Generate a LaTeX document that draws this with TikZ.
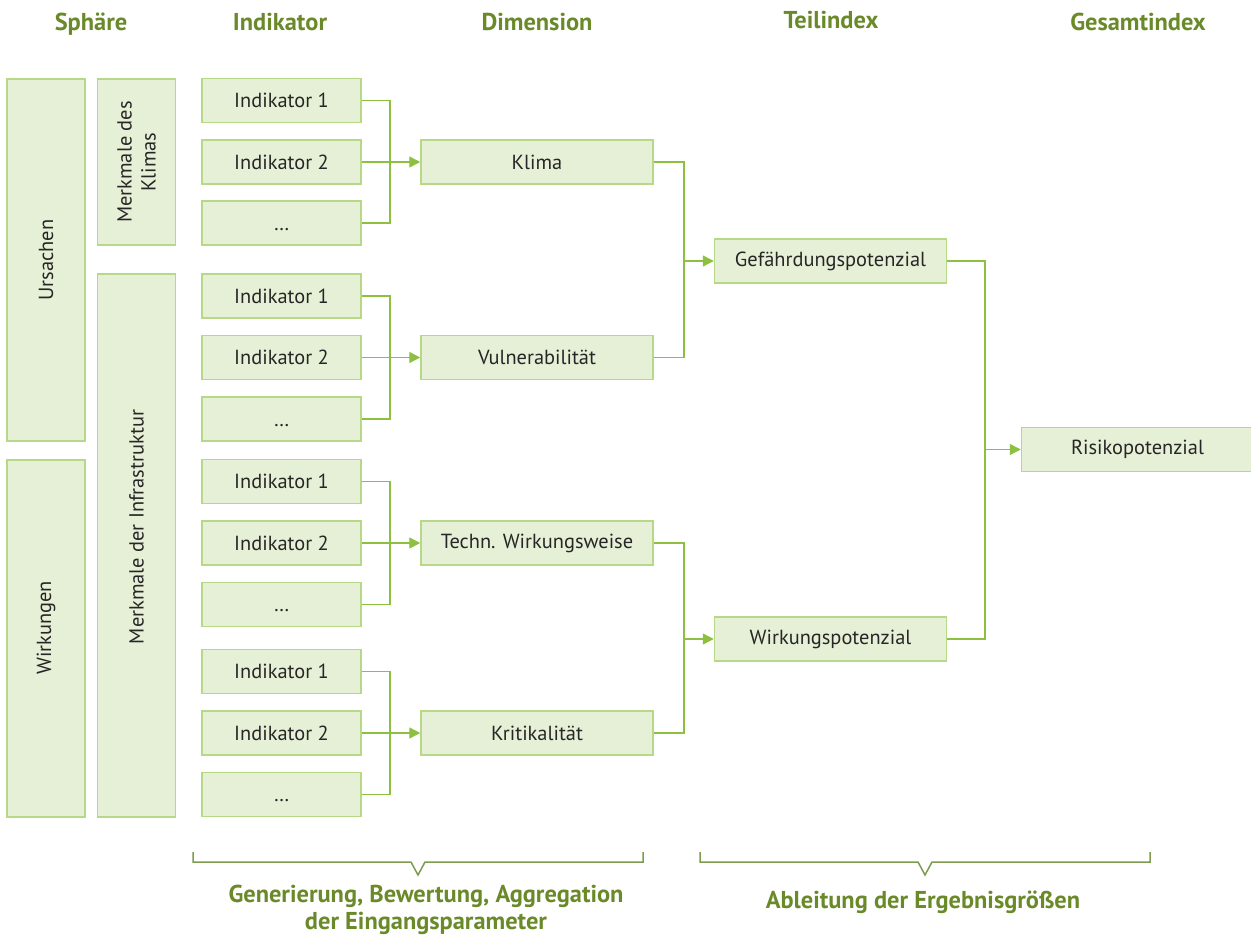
\documentclass[tikz,border=0pt]{standalone}
\usepackage{fontspec}
\setmainfont{PT Sans}
\usepackage{tikz}
\usetikzlibrary{arrows.meta, positioning, calc}
\definecolor{headgreen}{HTML}{6A8A2A}
\definecolor{boxfill}{HTML}{E6F0D6}
\definecolor{boxline}{HTML}{B7D886}
\definecolor{linkgreen}{HTML}{8DC040}
\definecolor{bracegreen}{HTML}{7E9B50}
\definecolor{textdark}{HTML}{262626}

\begin{document}
\begin{tikzpicture}[x=0.5pt, y=-0.5pt,
    box/.style={rectangle, draw=boxline, fill=boxfill, line width=0.75pt,
                text=textdark, font=\fontsize{10.2}{12}\selectfont, inner sep=0pt},
    ind/.style={box, minimum width=79.5pt, minimum height=22pt, text height=7.3pt, text depth=0pt},
    dim/.style={box, minimum width=116pt, minimum height=22pt},
    sph/.style={box, rotate=90, minimum height=39pt},
    sphtext/.style={rotate=90, text=textdark, font=\fontsize{10.2}{12}\selectfont, align=center},
    head/.style={anchor=base, text=headgreen, font=\fontsize{12.2}{14}\selectfont\bfseries},
    foot/.style={text=headgreen, font=\fontsize{12.2}{13.5}\selectfont\bfseries, align=center},
    conn/.style={linkgreen, line width=0.7pt},
    arr/.style={conn, -{Triangle[length=5.5pt, width=5.5pt]}},
    brace/.style={bracegreen, line width=0.75pt}
]
\useasboundingbox (0,0) rectangle (1251,936);

% column headers
\node[head] (hsph) at (91,31) {Sphäre};
\node[head] (hind) at (280,31) {Indikator};
\node[head] (hdim) at (537,31) {Dimension};
\node[head] (hteil) at (831,29) {Teilindex};
\node[head] (hges) at (1138,31) {Gesamtindex};

% spheres
\node[sph, minimum width=181pt] (urs) at (46,260) {Ursachen};
\node[sph, minimum width=178.5pt] (wirkg) at (46,638.5) {};
\node[sphtext] (wirkgtxt) at (46,628) {Wirkungen};
\node[sph, minimum width=83pt, align=center] (mklima) at (136.5,162) {Merkmale des\\Klimas};
\node[sph, minimum width=271.5pt] (minfra) at (136.5,545.5) {};
\node[sphtext] (minfratxt) at (136.5,527) {Merkmale der Infrastruktur};

% indicators
\node[ind] (ik1) at (281.5,100.5) {Indikator 1};
\node[ind] (ik2) at (281.5,162) {Indikator 2};
\node[ind] (ik3) at (281.5,223) {…};
\node[ind] (iv1) at (281.5,296) {Indikator 1};
\node[ind] (iv2) at (281.5,357.5) {Indikator 2};
\node[ind] (iv3) at (281.5,419) {…};
\node[ind] (it1) at (281.5,481.5) {Indikator 1};
\node[ind] (it2) at (281.5,543) {Indikator 2};
\node[ind] (it3) at (281.5,604.5) {…};
\node[ind] (ic1) at (281.5,671.5) {Indikator 1};
\node[ind] (ic2) at (281.5,733) {Indikator 2};
\node[ind] (ic3) at (281.5,794.5) {…};

% dimensions
\node[dim] (klima) at (537,162) {Klima};
\node[dim] (vuln) at (537,357.5) {Vulnerabilität};
\node[dim] (techn) at (537,543) {Techn. Wirkungsweise};
\node[dim] (krit) at (537,733) {Kritikalität};

% sub indices and total
\node[dim] (gef) at (830.5,261) {Gefährdungspotenzial};
\node[dim] (wirk) at (830.5,639) {Wirkungspotenzial};
\node[dim] (risk) at (1137.5,449.5) {Risikopotenzial};

% junctions
\coordinate (jk) at (390,162);
\coordinate (jv) at (390,357.5);
\coordinate (jt) at (390,543);
\coordinate (jc) at (390,733);
\coordinate (jg) at (684,261);
\coordinate (jw) at (684,639);
\coordinate (jr) at (985,449.5);

\draw[conn] (ik1.east) -| (jk) |- (ik3.east);
\draw[arr] (ik2) -- (klima);
\draw[conn] (iv1.east) -| (jv) |- (iv3.east);
\draw[arr] (iv2) -- (vuln);
\draw[conn] (it1.east) -| (jt) |- (it3.east);
\draw[arr] (it2) -- (techn);
\draw[conn] (ic1.east) -| (jc) |- (ic3.east);
\draw[arr] (ic2) -- (krit);

\draw[conn] (klima.east) -| (jg) |- (vuln.east);
\draw[arr] (jg) -- (gef);
\draw[conn] (techn.east) -| (jw) |- (krit.east);
\draw[arr] (jw) -- (wirk);

\draw[conn] (gef.east) -| (jr) |- (wirk.east);
\draw[arr] (jr) -- (risk);

% braces
\draw[brace] (193,852) -- (193,862) -- (411,862) -- (418,875) -- (425,862) -- (643,862) -- (643,852);
\draw[brace] (700,852) -- (700,862) -- (918,862) -- (925,875) -- (932,862) -- (1150,862) -- (1150,852);
\node[foot] (lblgen) at (426,910) {Generierung, Bewertung, Aggregation\\der Eingangsparameter};
\node[foot, anchor=base] (lblabl) at (923,908) {Ableitung der Ergebnisgrößen};
\end{tikzpicture}
\end{document}
